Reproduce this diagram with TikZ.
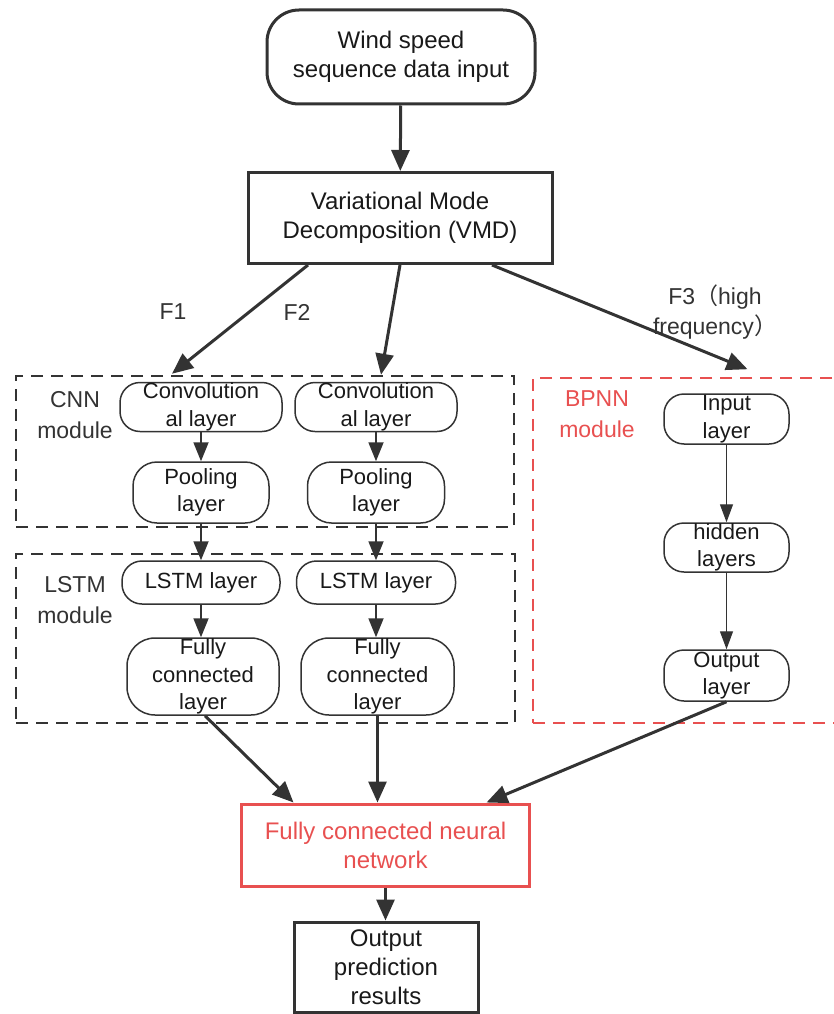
\documentclass[tikz,border=0pt]{standalone}
\usepackage{fontspec}
\setmainfont{Liberation Sans}
\newfontfamily\cjkfont{Noto Sans CJK SC}
\usetikzlibrary{arrows.meta}
\definecolor{dk}{RGB}{51,51,51}
\definecolor{tx}{RGB}{25,25,25}
\definecolor{rd}{RGB}{232,80,80}
\begin{document}
\begin{tikzpicture}[x=1pt,y=-1pt,
  bigtxt/.style={font=\fontsize{24}{29}\selectfont},
  smtxt/.style={font=\fontsize{22}{27.5}\selectfont},
  lbltxt/.style={font=\fontsize{23}{31}\selectfont, align=center, text=dk},
  rnd/.style={draw=dk, line width=1.5pt, rounded corners=20pt, align=center, inner sep=0pt, smtxt, text=tx},
  bigbox/.style={draw=dk, line width=3pt, align=center, inner sep=0pt, bigtxt, text=tx},
  dashbox/.style={line width=1.8pt, dash pattern=on 12pt off 8pt, inner sep=0pt},
  big/.style={draw=dk, line width=3pt, -{Triangle[length=21pt,width=18pt]}},
  sm/.style={draw=dk, line width=1.8pt, -{Triangle[length=19pt,width=15pt]}},
  thin/.style={draw=dk, line width=1.4pt, -{Triangle[length=18pt,width=13pt]}}
]
\useasboundingbox (0,0) rectangle (834,1014);
\clip (0,0) rectangle (834,1014);

% module frames
\node[dashbox, draw=dk, minimum width=498pt, minimum height=151pt] (cnnbox) at (265,451.5) {};
\node[dashbox, draw=dk, minimum width=499pt, minimum height=169pt] (lstmbox) at (265.5,638.5) {};
\node[dashbox, draw=rd, minimum width=317pt, minimum height=345pt] (bpbox) at (691.5,550.5) {};

% module labels
\node[lbltxt] (cnnlbl) at (75,415) {CNN\\module};
\node[lbltxt] (lstmlbl) at (75,600) {LSTM\\module};
\node[lbltxt, text=rd] (bplbl) at (597,414) {BPNN\\module};

% main flow
\node[bigbox, rounded corners=32pt, minimum width=268pt, minimum height=94pt] (in) at (401,57) {Wind speed\\sequence data input};
\node[bigbox, minimum width=304pt, minimum height=91pt] (vmd) at (400,218) {Variational Mode\\Decomposition (VMD)};

% CNN / LSTM branch 1
\node[rnd, minimum width=162pt, minimum height=49pt] (conv1) at (201,407) {Convolution\\al layer};
\node[rnd, rounded corners=24pt, minimum width=136pt, minimum height=61pt] (pool1) at (201,492.5) {Pooling\\layer};
\node[rnd, minimum width=158pt, minimum height=43pt] (lstm1) at (201,582.5) {LSTM layer};
\node[rnd, rounded corners=28pt, minimum width=152pt, minimum height=77pt] (fc1) at (203,676.5) {Fully\\connected\\layer};

% CNN / LSTM branch 2
\node[rnd, minimum width=162pt, minimum height=49pt] (conv2) at (376,407) {Convolution\\al layer};
\node[rnd, rounded corners=24pt, minimum width=137pt, minimum height=61pt] (pool2) at (376,492.5) {Pooling\\layer};
\node[rnd, minimum width=159pt, minimum height=43pt] (lstm2) at (376,582.5) {LSTM layer};
\node[rnd, rounded corners=28pt, minimum width=153pt, minimum height=77pt] (fc2) at (377.5,676.5) {Fully\\connected\\layer};

% BPNN branch
\node[rnd, minimum width=125pt, minimum height=50pt] (inp) at (726.5,419) {Input\\layer};
\node[rnd, minimum width=125pt, minimum height=49pt] (hid) at (726.5,547.5) {hidden\\layers};
\node[rnd, minimum width=125pt, minimum height=51pt] (outl) at (726.5,675.5) {Output\\layer};

% output part
\node[bigbox, draw=rd, text=rd, minimum width=288pt, minimum height=82pt] (fcnn) at (385.5,845) {Fully connected neural\\network};
\node[bigbox, minimum width=184pt, minimum height=90pt] (outp) at (386,967) {Output\\prediction\\results};

% branch labels
\node[lbltxt] (f1) at (173,312) {F1};
\node[lbltxt] (f2) at (297,312) {F2};
\node[lbltxt, font=\fontsize{23}{30}\selectfont] (f3) at (715,312) {F3{\cjkfont （}high\\frequency{\cjkfont ）}};

% connectors
\draw[big] (in) -- (vmd);
\draw[big] ([xshift=-92pt]vmd.south) -- ([xshift=-29pt,yshift=8pt]conv1.north);
\draw[big] (vmd.south) -- ([xshift=5pt,yshift=7pt]conv2.north);
\draw[big] ([xshift=92pt]vmd.south) -- ([xshift=21pt,yshift=24pt]inp.north);

\draw[sm] (conv1) -- (pool1);
\draw[sm] (pool1) -- (lstm1);
\draw[sm] (lstm1.south) -- (lstm1.south |- fc1.north);
\draw[sm] (conv2) -- (pool2);
\draw[sm] (pool2) -- (lstm2);
\draw[sm] (lstm2.south) -- (lstm2.south |- fc2.north);

\draw[thin] (inp) -- (hid);
\draw[thin] (hid) -- (outl);

\draw[big] ([xshift=2pt]fc1.south) -- ([xshift=-92pt]fcnn.north);
\draw[big] (fc2.south) -- (fc2.south |- fcnn.north);
\draw[big] (outl.south) -- ([xshift=101pt]fcnn.north);
\draw[big] (fcnn.south) -- (fcnn.south |- outp.north);
\end{tikzpicture}
\end{document}
